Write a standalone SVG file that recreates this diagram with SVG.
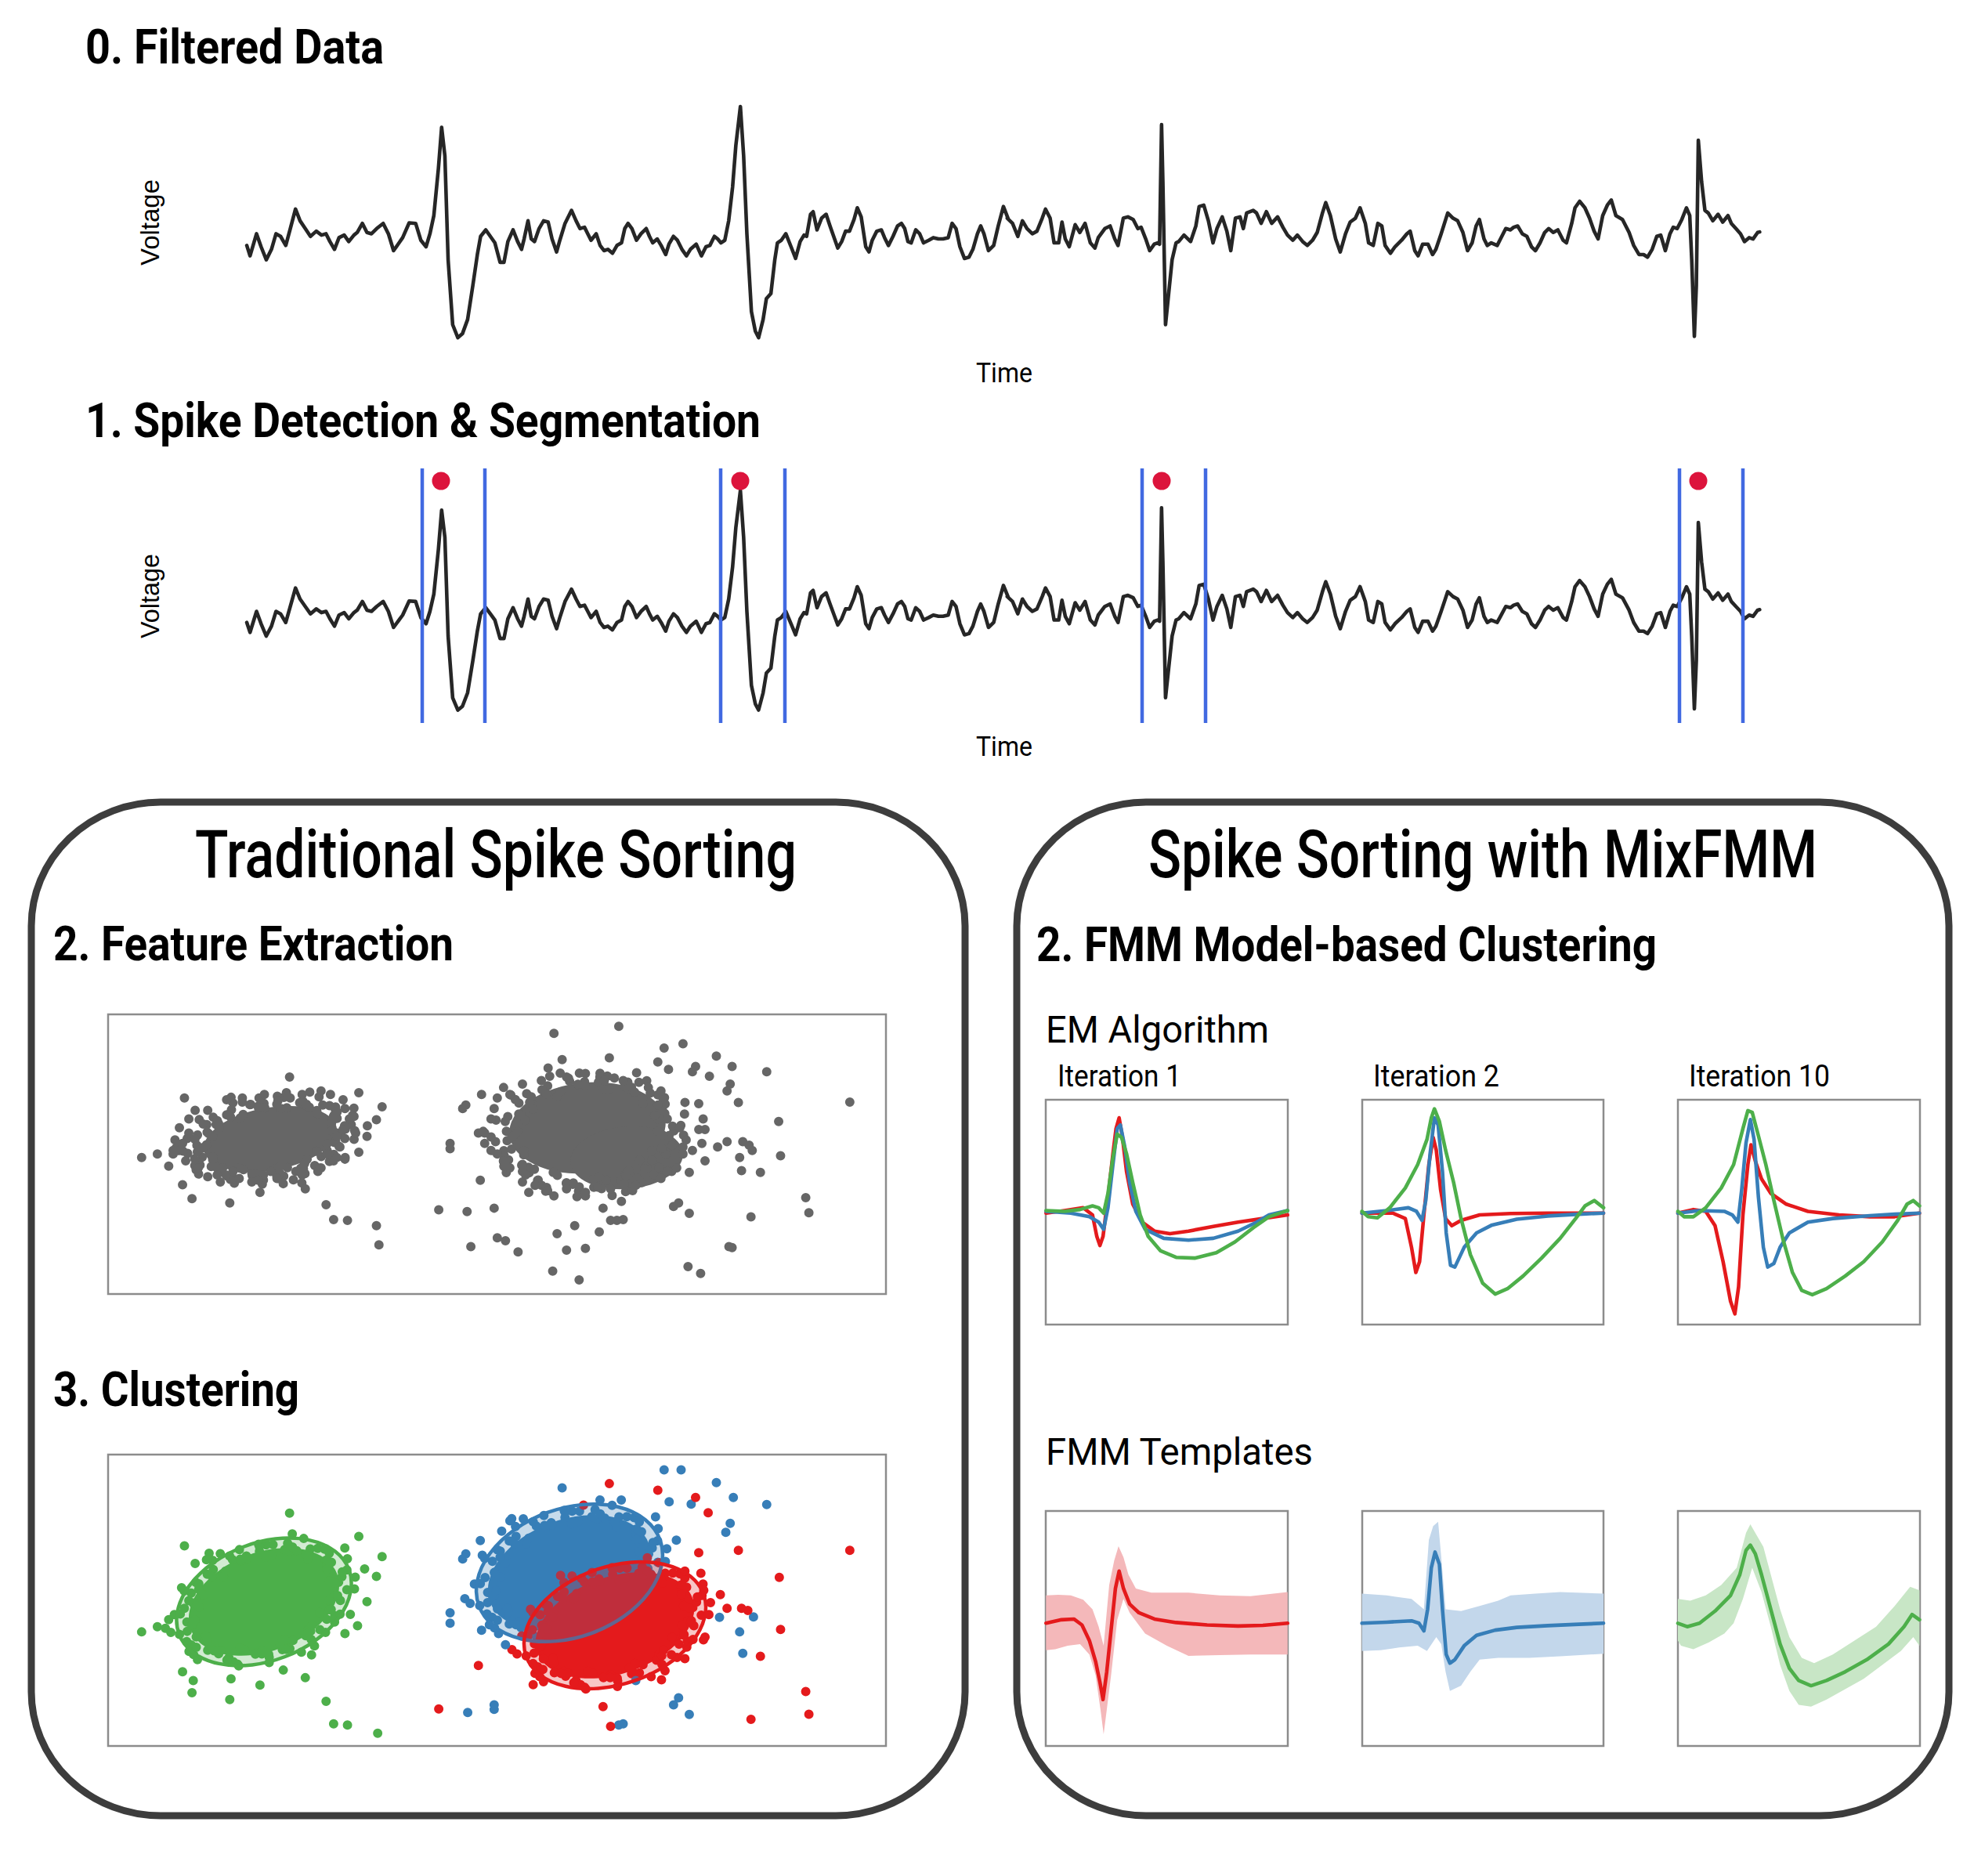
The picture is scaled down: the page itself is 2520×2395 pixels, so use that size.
<svg xmlns="http://www.w3.org/2000/svg" xmlns:xlink="http://www.w3.org/1999/xlink" width="2520" height="2395" viewBox="0 0 2520 2395">
<style>
.h{font-family:Roboto,"Liberation Sans",sans-serif;font-weight:700;font-size:62px;fill:#000}
.pt{font-family:Roboto,"Liberation Sans",sans-serif;font-weight:500;font-size:86px;fill:#000}
.sub{font-family:Roboto,"Liberation Sans",sans-serif;font-weight:400;font-size:48px;fill:#000}
.it{font-family:Roboto,"Liberation Sans",sans-serif;font-weight:400;font-size:38px;fill:#000}
.ax{font-family:Roboto,"Liberation Sans",sans-serif;font-weight:400;font-size:35px;fill:#000}
.vl{font-family:"Liberation Sans",Arial,sans-serif;font-size:33px;fill:#000}
.sig{fill:none;stroke:#262626;stroke-width:4.6;stroke-linejoin:round;stroke-linecap:round;vector-effect:non-scaling-stroke}
.seg{stroke:#4169E1;stroke-width:4.5}
.box{fill:#fff;stroke:#8c8c8c;stroke-width:2.5}
.panel{fill:#fff;stroke:#3d3d3d;stroke-width:9}
.dots{fill:none;stroke-width:12;stroke-linecap:round;vector-effect:non-scaling-stroke}
.cv{fill:none;stroke-width:4.6;stroke-linejoin:round;stroke-linecap:round;vector-effect:non-scaling-stroke}
.band{stroke:none}
</style>
<defs>
<g id="signal">
<path class="sig" transform="matrix(0.8291,0,0,0.3316,0,0)" d="M380,945 L385,985 395,900 402,950 410,1000 418,960 425,900 432,910 440,945 447,880 455,805 462,850 470,880 478,910 487,890 495,905 502,900 508,930 515,960 522,915 530,905 537,930 545,905 550,895 558,860 565,895 572,900 580,880 590,860 598,900 606,965 613,940 620,915 630,858 640,860 648,925 656,950 662,900 668,830 675,650 680,490 685,600 690,1000 697,1250 705,1300 712,1285 720,1230 728,1100 735,980 740,910 748,885 755,910 762,935 770,1010 776,1010 782,930 790,885 797,930 803,960 807,920 813,850 818,920 823,930 830,880 837,850 844,855 850,920 857,970 862,925 870,860 880,810 887,850 893,880 900,875 905,900 910,925 918,900 924,945 930,965 936,960 943,975 950,945 957,935 962,880 967,860 973,880 980,925 987,900 995,880 1000,910 1005,935 1012,920 1018,945 1025,980 1030,940 1037,910 1043,925 1050,960 1057,985 1063,960 1072,940 1080,985 1087,950 1093,945 1100,910 1105,920 1110,935 1116,925 1122,850 1128,720 1133,560 1140,410 1145,600 1150,900 1157,1200 1163,1275 1168,1300 1175,1230 1180,1150 1187,1130 1193,1000 1197,935 1203,925 1210,900 1218,950 1225,995 1232,930 1238,905 1242,910 1248,825 1252,815 1258,885 1265,840 1272,825 1278,870 1285,920 1290,955 1296,930 1302,890 1308,890 1315,845 1320,800 1326,835 1333,950 1338,970 1343,925 1350,890 1357,885 1362,915 1368,945 1375,910 1382,870 1388,860 1393,880 1398,930 1403,935 1410,885 1416,900 1422,935 1430,925 1437,915 1445,920 1452,920 1460,915 1466,860 1472,880 1478,950 1485,995 1492,990 1498,960 1505,900 1510,870 1515,900 1522,965 1530,945 1537,870 1545,795 1552,840"/>
<path class="sig" transform="matrix(0.8418,0,0,0.3316,1200,0)" d="M102,840 L110,860 118,910 125,850 132,880 140,900 147,890 155,840 160,805 167,840 173,935 180,935 185,855 190,920 196,950 205,865 212,895 220,860 228,935 235,955 240,915 250,880 258,870 265,920 270,945 278,840 285,835 293,845 300,880 305,875 312,920 318,965 325,940 330,935 333,940 336,480 338,700 342,1250 346,1150 352,1000 358,935 362,930 370,905 380,930 388,870 393,795 400,790 407,850 414,935 420,880 428,835 435,890 441,965 448,840 455,835 460,880 465,820 475,810 480,820 487,860 495,815 503,860 512,835 520,875 527,905 535,925 542,905 550,930 557,945 565,925 572,895 580,820 585,780 592,830 600,920 607,970 615,900 622,855 630,840 637,800 645,860 650,935 657,945 664,860 670,870 675,945 683,975 690,950 700,925 708,900 713,890 720,965 725,985 732,940 740,940 747,980 752,960 760,900 770,820 778,840 785,850 793,895 800,965 807,935 813,870 818,845 825,920 830,945 836,935 845,945 850,920 858,880 865,885 870,875 876,870 883,900 890,910 897,950 903,965 910,935 917,895 923,880 930,895 937,885 945,925 950,935 958,860 963,800 970,775 978,800 985,840 992,890 998,920 1005,830 1012,790 1018,770 1025,830 1035,845 1045,895 1052,945 1060,980 1067,980 1073,990 1080,960 1087,910 1093,905 1100,965 1107,900 1112,875 1118,880 1125,845 1132,800 1137,830 1140,1000 1144,1295 1147,1100 1150,540 1155,700 1160,810 1165,820 1172,850 1180,825 1187,855 1195,830 1200,860 1207,880 1214,900 1220,930 1227,915 1233,920 1240,895 1243,893"/>
</g>
<path id="fringe" class="dots" d="M1.05,0h0M.906,.16h0M1.053,.383h0M.849,.49h0M.689,.579h0M.694,.827h0M.5,.866h0M.318,.874h0M.2,1.133h0M0,.96h0M-.177,1.005h0M-.308,.846h0M-.55,.953h0M-.624,.743h0M-.72,.604h0M-.979,.565h0M-.94,.342h0M-.896,.158h0M-1.07,0h0M-.936,-.165h0M-1.043,-.38h0M-.779,-.45h0M-.766,-.643h0M-.669,-.797h0M-.465,-.805h0M-.39,-1.072h0M-.169,-.955h0M0,-.92h0M.184,-1.044h0M.342,-.94h0M.45,-.779h0M.707,-.843h0M.735,-.617h0M.892,-.515h0M.855,-.311h0M1.103,-.195h0M.966,.085h0M.798,.372h0M.721,.721h0M.368,.788h0M.087,.996h0M-.228,.85h0M-.591,.844h0M-.721,.505h0M-.985,.264h0M-.877,-.077h0M-.906,-.423h0M-.615,-.615h0M-.423,-.906h0M-.077,-.877h0M.264,-.985h0M.499,-.713h0M.819,-.574h0M.85,-.228h0M1.25,.1h0M-1.2,-.2h0M.3,1.25h0M-.4,-1.22h0M.9,.8h0M-.85,-.8h0M.55,.95h0M-.2,1.1h0M.6,-1.0h0M-1.0,.45h0M1.12,-.4h0M-.05,-1.08h0"/>
</defs>
<rect width="2520" height="2395" fill="#fff"/>

<g id="step0">
<text class="h" x="109" y="81" textLength="381" lengthAdjust="spacingAndGlyphs">0. Filtered Data</text>
<use xlink:href="#signal" href="#signal"/>
<text class="vl" transform="translate(203,339) rotate(-90)" textLength="110" lengthAdjust="spacingAndGlyphs">Voltage</text>
<text class="ax" x="1246" y="488" textLength="72" lengthAdjust="spacingAndGlyphs">Time</text>
</g>

<g id="step1">
<text class="h" x="109" y="558" textLength="862" lengthAdjust="spacingAndGlyphs">1. Spike Detection &amp; Segmentation</text>
<use xlink:href="#signal" href="#signal" transform="translate(0,497) scale(1,0.95)"/>
<g id="segments">
<line class="seg" x1="539" y1="598" x2="539" y2="923"/>
<line class="seg" x1="619" y1="598" x2="619" y2="923"/>
<line class="seg" x1="920" y1="598" x2="920" y2="923"/>
<line class="seg" x1="1002" y1="598" x2="1002" y2="923"/>
<line class="seg" x1="1458" y1="598" x2="1458" y2="923"/>
<line class="seg" x1="1539" y1="598" x2="1539" y2="923"/>
<line class="seg" x1="2144" y1="598" x2="2144" y2="923"/>
<line class="seg" x1="2225" y1="598" x2="2225" y2="923"/>
</g>
<g id="detections" fill="#DC143C">
<circle cx="563" cy="614" r="11.5"/>
<circle cx="945" cy="614" r="11.5"/>
<circle cx="1483" cy="614" r="11.5"/>
<circle cx="2168" cy="614" r="11.5"/>
</g>
<text class="vl" transform="translate(203,815) rotate(-90)" textLength="108" lengthAdjust="spacingAndGlyphs">Voltage</text>
<text class="ax" x="1246" y="965" textLength="72" lengthAdjust="spacingAndGlyphs">Time</text>
</g>

<g id="traditional">
<rect class="panel" x="40" y="1024" width="1192" height="1294" rx="165" ry="158"/>
<text class="pt" x="249" y="1120" textLength="768" lengthAdjust="spacingAndGlyphs">Traditional Spike Sorting</text>
<text class="h" x="68" y="1226" textLength="511" lengthAdjust="spacingAndGlyphs">2. Feature Extraction</text>
<g id="feature-plot">
<rect class="box" x="138" y="1295" width="993" height="357"/>
<g fill="#666">
<ellipse cx="345" cy="1454" rx="86" ry="40" transform="rotate(-10 345 1454)"/>
<ellipse cx="750" cy="1440" rx="100" ry="58" transform="rotate(-5 750 1440)"/>
<ellipse cx="800" cy="1478" rx="72" ry="40" transform="rotate(-5 800 1478)"/>
</g>
<use xlink:href="#fringe" href="#fringe" stroke="#666" transform="translate(345 1454) rotate(-10) scale(100 50)"/>
<use xlink:href="#fringe" href="#fringe" stroke="#666" transform="translate(752 1447) rotate(-5) scale(112 72)"/>
<use xlink:href="#fringe" href="#fringe" stroke="#666" transform="translate(345 1454) rotate(170) scale(90 42)"/>
<use xlink:href="#fringe" href="#fringe" stroke="#666" transform="translate(752 1447) rotate(175) scale(100 64)"/>
<path class="dots" stroke="#666" transform="matrix(0.8036,0,0,0.4464,0,1000)" d="M300,960h0M310,935h0M330,935h0M360,905h0M385,900h0M420,890h0M455,885h0M480,890h0M510,880h0M525,890h0M545,905h0M548,930h0M555,960h0M545,990h0M540,1040h0M530,1080h0M510,1100h0M480,1120h0M440,1130h0M410,1135h0M380,1130h0M345,1120h0M315,1100h0M295,1080h0M285,1050h0M278,1020h0M285,985h0M300,1000h0M275,1060h0M290,1030h0M520,1060h0M535,1010h0M370,1110h0M430,1110h0M400,1140h0M350,1140h0M330,1125h0M470,1110h0M560,950h0M565,1000h0M535,1070h0M505,1110h0M800,870h0M830,860h0M860,850h0M900,840h0M930,830h0M960,850h0M990,850h0M1015,855h0M1030,870h0M1050,880h0M1045,920h0M1040,950h0M1060,960h0M1080,985h0M1090,1020h0M1085,1060h0M1075,1100h0M1050,1130h0M1010,1150h0M970,1160h0M930,1170h0M900,1160h0M870,1165h0M850,1150h0M835,1120h0M830,1090h0M800,1080h0M790,1060h0M770,1030h0M770,1000h0M780,960h0M785,930h0M790,900h0M810,890h0M840,1170h0M880,1180h0M930,1180h0M1005,1165h0M1060,1110h0M1100,1050h0M760,1000h0M780,1050h0M810,1100h0M830,1140h0M225,1070h0M250,1060h0M268,1095h0M275,1050h0M293,900h0M460,840h0M570,885h0M607,925h0M598,962h0M583,1010h0M570,1055h0M548,1075h0M485,1160h0M450,1145h0M413,1170h0M365,1200h0M305,1188h0M290,1148h0M518,1205h0M530,1248h0M552,1250h0M598,1265h0M602,1320h0M880,715h0M983,695h0M1055,757h0M1085,745h0M893,790h0M968,785h0M1045,797h0M1062,818h0M1138,780h0M1163,810h0M1100,825h0M1105,810h0M1127,838h0M1218,825h0M1160,860h0M1155,880h0M1173,913h0M1110,916h0M1350,912h0M1237,967h0M1117,960h0M1120,990h0M1115,1030h0M1120,1080h0M1140,1040h0M1155,1025h0M1180,1025h0M1190,1035h0M1195,1050h0M1175,1070h0M1240,1065h0M1178,1108h0M1208,1113h0M1095,1113h0M1280,1185h0M1285,1228h0M1193,1240h0M1078,1200h0M1070,1210h0M1095,1230h0M958,1215h0M970,1250h0M980,1250h0M990,1248h0M913,1265h0M885,1288h0M952,1283h0M785,1215h0M742,1225h0M697,1220h0M790,1300h0M803,1308h0M823,1340h0M748,1325h0M900,1335h0M930,1330h0M878,1395h0M920,1420h0M1093,1382h0M1113,1402h0M1158,1325h0M1163,1328h0M715,1045h0M715,1030h0M763,1135h0M740,920h0M735,930h0M765,890h0M800,870h0M805,1095h0M830,1110h0"/>
</g>
<text class="h" x="68" y="1795" textLength="314" lengthAdjust="spacingAndGlyphs">3. Clustering</text>
<g id="cluster-plot">
<rect class="box" x="138" y="1857" width="993" height="372"/>
<ellipse cx="337" cy="2045" rx="100" ry="63" transform="rotate(-21 337 2045)" fill="#4DAF4A"/>
<use xlink:href="#fringe" href="#fringe" stroke="#4DAF4A" transform="translate(337 2045) rotate(-21) scale(108 68)"/>
<use xlink:href="#fringe" href="#fringe" stroke="#4DAF4A" transform="translate(337 2045) rotate(159) scale(100 62)"/>
<ellipse cx="727" cy="2008" rx="108" ry="68" transform="rotate(-20 727 2008)" fill="#377EB8"/>
<use xlink:href="#fringe" href="#fringe" stroke="#377EB8" transform="translate(727 2008) rotate(-20) scale(114 74)"/>
<use xlink:href="#fringe" href="#fringe" stroke="#377EB8" transform="translate(727 2008) rotate(160) scale(106 68)"/>
<ellipse cx="785" cy="2075" rx="105" ry="62" transform="rotate(-19 785 2075)" fill="#E41A1C"/>
<use xlink:href="#fringe" href="#fringe" stroke="#E41A1C" transform="translate(785 2075) rotate(-19) scale(112 68)"/>
<use xlink:href="#fringe" href="#fringe" stroke="#E41A1C" transform="translate(785 2075) rotate(161) scale(104 62)"/>
<path class="dots" stroke="#4DAF4A" transform="matrix(0.8036,0,0,0.4432,0,1700)" d="M460,523h0M293,617h0M570,590h0M607,648h0M598,705h0M583,778h0M568,847h0M548,870h0M485,997h0M450,975h0M413,1018h0M365,1060h0M305,1040h0M290,980h0M518,1065h0M530,1130h0M552,1133h0M600,1157h0M225,865h0M250,850h0M268,830h0M300,775h0M367,1000h0M307,1005h0M328,657h0M310,668h0"/>
<path class="dots" stroke="#377EB8" transform="matrix(0.8036,0,0,0.4432,0,1700)" d="M1055,398h0M1082,398h0M1138,435h0M893,450h0M1165,478h0M1218,498h0M1063,490h0M1098,497h0M1160,552h0M1153,578h0M987,485h0M810,545h0M797,575h0M763,602h0M740,640h0M735,655h0M715,810h0M715,840h0M765,860h0M803,902h0M1143,823h0M1197,822h0M1175,865h0M1180,927h0M743,1097h0M785,1088h0M785,1075h0M1078,1055h0M1070,1075h0M1095,1103h0M983,1133h0M990,1130h0M1010,1005h0"/>
<path class="dots" stroke="#E41A1C" transform="matrix(0.8036,0,0,0.4432,0,1700)" d="M968,438h0M1045,457h0M1105,478h0M1125,522h0M927,500h0M1110,637h0M1173,630h0M1350,630h0M1238,708h0M1155,797h0M1178,797h0M1188,803h0M1240,858h0M1208,935h0M760,962h0M847,1017h0M697,1087h0M958,1080h0M970,1137h0M1193,1117h0M1280,1037h0M1285,1102h0M1088,690h0M1118,745h0M1120,880h0M1088,942h0"/>
<ellipse cx="337" cy="2045" rx="116" ry="75" transform="rotate(-21 337 2045)" fill="#4DAF4A" fill-opacity="0.25" stroke="#4DAF4A" stroke-width="4.5"/>
<ellipse cx="727" cy="2008" rx="123" ry="82" transform="rotate(-20 727 2008)" fill="#377EB8" fill-opacity="0.28" stroke="#377EB8" stroke-width="4.5"/>
<ellipse cx="785" cy="2075" rx="120" ry="75" transform="rotate(-19 785 2075)" fill="#E41A1C" fill-opacity="0.25" stroke="#E41A1C" stroke-width="4.5"/>
</g>
</g>

<g id="mixfmm">
<rect class="panel" x="1298" y="1024" width="1190" height="1294" rx="165" ry="158"/>
<text class="pt" x="1466" y="1120" textLength="854" lengthAdjust="spacingAndGlyphs">Spike Sorting with MixFMM</text>
<text class="h" x="1323" y="1227" textLength="792" lengthAdjust="spacingAndGlyphs">2. FMM Model-based Clustering</text>
<text class="sub" x="1335" y="1331" textLength="285" lengthAdjust="spacingAndGlyphs">EM Algorithm</text>
<text class="it" x="1350" y="1387" textLength="158" lengthAdjust="spacingAndGlyphs">Iteration 1</text>
<text class="it" x="1753" y="1387" textLength="161" lengthAdjust="spacingAndGlyphs">Iteration 2</text>
<text class="it" x="2156" y="1387" textLength="180" lengthAdjust="spacingAndGlyphs">Iteration 10</text>
<g id="em-iter1">
<rect class="box" x="1335" y="1404" width="309" height="287"/>
<g transform="matrix(0.7908,0,0,0.4592,1280,1000)">
<path class="cv" stroke="#E41A1C" d="M70,1195 L100,1188 130,1180 145,1200 152,1260 157,1285 162,1260 170,1150 178,1030 183,960 188,930 193,980 200,1080 210,1170 225,1220 245,1245 270,1252 300,1245 340,1232 380,1220 420,1210 460,1200"/>
<path class="cv" stroke="#377EB8" d="M70,1190 L110,1195 140,1205 155,1220 163,1240 170,1180 178,1060 185,960 190,950 197,1010 205,1110 215,1190 230,1240 260,1265 300,1270 340,1265 380,1245 410,1220 430,1200 460,1188"/>
<path class="cv" stroke="#4DAF4A" d="M70,1188 L100,1190 125,1185 145,1175 155,1180 163,1195 170,1140 178,1040 185,975 192,985 200,1030 210,1110 222,1200 235,1260 255,1300 280,1318 310,1320 345,1305 375,1275 405,1235 430,1205 460,1188"/>
</g>
</g>
<g id="em-iter2">
<rect class="box" x="1739" y="1404" width="308" height="287"/>
<g transform="matrix(0.7908,0,0,0.4592,1280,1000)">
<path class="cv" stroke="#E41A1C" d="M580,1195 L630,1195 650,1210 660,1290 667,1360 673,1330 680,1200 688,1060 695,985 700,1020 707,1130 715,1210 725,1230 740,1215 770,1200 820,1196 880,1195 970,1195"/>
<path class="cv" stroke="#377EB8" d="M580,1195 L620,1188 655,1180 668,1190 677,1215 683,1160 690,1030 697,930 703,950 710,1080 716,1250 723,1340 730,1345 745,1290 765,1250 790,1228 830,1212 880,1203 930,1198 970,1195"/>
<path class="cv" stroke="#4DAF4A" d="M580,1190 L590,1205 605,1208 625,1180 650,1125 670,1060 685,990 692,930 697,905 705,940 715,1020 728,1110 740,1210 755,1310 775,1390 795,1420 815,1405 840,1370 870,1320 900,1265 925,1210 940,1175 955,1160 970,1180"/>
</g>
</g>
<g id="em-iter10">
<rect class="box" x="2142" y="1404" width="309" height="287"/>
<g transform="matrix(0.7908,0,0,0.4592,1280,1000)">
<path class="cv" stroke="#E41A1C" d="M1090,1195 L1115,1185 1135,1190 1150,1230 1163,1330 1175,1440 1182,1475 1188,1400 1195,1200 1203,1060 1208,1005 1215,1050 1225,1100 1240,1140 1265,1170 1300,1190 1350,1200 1400,1205 1440,1205 1480,1195"/>
<path class="cv" stroke="#377EB8" d="M1090,1195 L1125,1188 1165,1190 1178,1200 1187,1220 1193,1130 1200,1000 1207,935 1213,990 1220,1150 1228,1290 1235,1345 1245,1335 1255,1290 1270,1250 1300,1220 1340,1210 1400,1202 1440,1198 1480,1195"/>
<path class="cv" stroke="#4DAF4A" d="M1090,1190 L1100,1205 1115,1205 1135,1180 1160,1125 1180,1060 1195,960 1203,910 1210,915 1220,980 1232,1060 1245,1160 1260,1270 1275,1360 1290,1410 1307,1422 1330,1405 1360,1370 1390,1330 1420,1275 1445,1215 1460,1170 1470,1160 1480,1175"/>
</g>
</g>
<text class="sub" x="1335" y="1870" textLength="341" lengthAdjust="spacingAndGlyphs">FMM Templates</text>
<g id="template-red">
<rect class="box" x="1335" y="1929" width="309" height="300"/>
<g transform="matrix(0.7908,0,0,0.4432,1280,1700)">
<path class="band" fill="#F4B8BA" d="M70,760 L90,758 110,760 130,772 145,800 155,850 163,905 172,730 180,660 187,618 195,650 203,700 215,740 240,752 300,752 350,760 400,762 460,750 L460,930 400,930 350,932 300,934 265,905 230,870 205,810 195,770 185,830 175,990 168,1090 163,1160 158,1090 150,990 140,930 125,900 105,905 85,915 70,918 Z"/>
<path class="cv" stroke="#E41A1C" stroke-width="5" d="M70,840 L95,830 115,828 128,845 140,890 150,950 157,1010 162,1060 168,980 175,860 182,740 188,690 195,740 205,785 220,810 245,828 280,838 330,845 380,848 420,846 460,840"/>
</g>
</g>
<g id="template-blue">
<rect class="box" x="1739" y="1929" width="308" height="300"/>
<g transform="matrix(0.7908,0,0,0.4432,1280,1700)">
<path class="band" fill="#C3D7EB" d="M580,755 L620,760 660,770 680,800 688,600 695,560 703,548 708,650 715,800 740,805 770,790 800,775 820,760 860,755 900,750 970,755 L970,928 900,935 850,940 800,940 770,945 755,980 740,1020 722,1035 715,980 708,900 700,880 685,920 670,905 640,910 610,918 580,920 Z"/>
<path class="cv" stroke="#377EB8" d="M580,840 L620,837 660,833 672,840 680,862 686,800 692,680 698,635 705,670 710,800 716,930 722,955 730,945 745,905 765,875 795,860 830,852 880,847 930,843 970,840"/>
</g>
</g>
<g id="template-green">
<rect class="box" x="2142" y="1929" width="309" height="300"/>
<g transform="matrix(0.7908,0,0,0.4432,1280,1700)">
<path class="band" fill="#C8E6C6" d="M1090,770 L1110,775 1135,760 1160,730 1185,680 1200,580 1207,555 1215,580 1228,620 1240,700 1255,800 1270,880 1290,940 1310,955 1340,930 1375,890 1410,850 1440,790 1465,735 1480,745 L1480,905 1470,880 1450,920 1420,960 1390,1000 1360,1030 1330,1060 1305,1080 1285,1075 1270,1035 1255,960 1240,850 1225,750 1210,680 1195,770 1180,840 1165,870 1140,895 1115,915 1095,905 1090,890 Z"/>
<path class="cv" stroke="#4DAF4A" d="M1090,840 L1105,850 1125,840 1150,805 1175,760 1190,700 1200,630 1207,615 1215,640 1225,700 1240,800 1255,900 1270,970 1285,1005 1305,1020 1330,1005 1360,980 1395,945 1430,900 1455,850 1468,815 1480,830"/>
</g>
</g>
</g>
</svg>
